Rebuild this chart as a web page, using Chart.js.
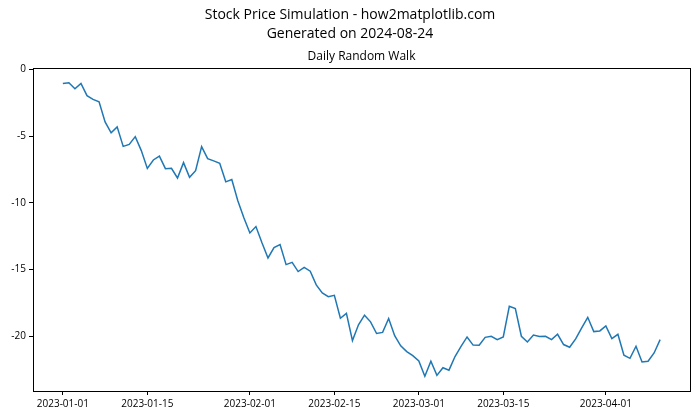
<!DOCTYPE html>
<html>
<head>
<meta charset="utf-8">
<script src="https://cdn.jsdelivr.net/npm/chart.js@4.4.0/dist/chart.umd.min.js"></script>
<style>
  html, body { margin: 0; padding: 0; background: #ffffff; }
  #wrap { width: 700px; height: 420px; }
</style>
</head>
<body>
<div id="wrap"><canvas id="c" width="700" height="420"></canvas></div>
<script>
// ---- data ----
const dayIndex = [];
for (let i = 0; i < 100; i++) dayIndex.push(i); // 2023-01-01 .. 2023-04-10

const prices = [
  -1.07, -1.00, -1.45, -1.05, -1.97, -2.25, -2.44, -3.94, -4.76, -4.31,
  -5.77, -5.62, -5.04, -6.09, -7.42, -6.79, -6.50, -7.44, -7.42, -8.14,
  -6.99, -8.09, -7.59, -5.79, -6.69, -6.86, -7.04, -8.43, -8.25, -9.85,
  -11.12, -12.26, -11.78, -13.00, -14.13, -13.35, -13.13, -14.63, -14.46, -15.15,
  -14.84, -15.12, -16.15, -16.75, -17.03, -16.93, -18.65, -18.28, -20.32, -19.14,
  -18.42, -18.92, -19.79, -19.71, -18.67, -19.96, -20.72, -21.15, -21.45, -21.85,
  -23.00, -21.87, -22.93, -22.36, -22.54, -21.52, -20.75, -20.05, -20.66, -20.67,
  -20.08, -20.00, -20.25, -20.05, -17.75, -17.93, -20.00, -20.43, -19.91, -20.02,
  -20.00, -20.25, -19.85, -20.62, -20.82, -20.20, -19.37, -18.58, -19.65, -19.60,
  -19.22, -20.17, -19.85, -21.42, -21.65, -20.75, -21.92, -21.87, -21.25, -20.25
];

const xTickDays   = [0, 14, 31, 45, 59, 73, 90];
const xTickLabels = ['2023-01-01', '2023-01-15', '2023-02-01', '2023-02-15', '2023-03-01', '2023-03-15', '2023-04-01'];
const yTickValues = [-20, -15, -10, -5, 0];

const titleLines = ['Stock Price Simulation - how2matplotlib.com', 'Generated on 2024-08-24'];
const axesTitle  = 'Daily Random Walk';

const FONT = "'Open Sans', 'Noto Sans', sans-serif";

const points = dayIndex.map((d, i) => ({ x: d, y: prices[i] }));

const frame = {
  id: 'frame',
  afterDraw(chart) {
    const { ctx, chartArea: a } = chart;
    ctx.save();
    ctx.strokeStyle = '#000';
    ctx.lineWidth = 1;
    ctx.strokeRect(Math.round(a.left) + 0.5, Math.round(a.top) + 0.5,
                   Math.round(a.right - a.left), Math.round(a.bottom - a.top));
    ctx.fillStyle = '#000';
    ctx.textAlign = 'center';
    ctx.textBaseline = 'middle';
    ctx.font = '14px ' + FONT;
    ctx.fillText(titleLines[0], 350, 15);
    ctx.fillText(titleLines[1], 350, 34);
    ctx.font = '12px ' + FONT;
    ctx.fillText(axesTitle, (a.left + a.right) / 2, 57);
    ctx.restore();
  }
};

new Chart(document.getElementById('c'), {
  type: 'line',
  data: {
    datasets: [{
      data: points,
      borderColor: '#1f77b4',
      borderWidth: 1.5,
      pointRadius: 0,
      tension: 0,
      fill: false
    }]
  },
  options: {
    responsive: false,
    animation: false,
    devicePixelRatio: 1,
    layout: { padding: { left: 0, right: 10, top: 68, bottom: 0 } },
    plugins: { legend: { display: false }, tooltip: { enabled: false } },
    scales: {
      x: {
        type: 'linear',
        min: -4.95,
        max: 103.95,
        afterBuildTicks(scale) { scale.ticks = xTickDays.map(v => ({ value: v })); },
        afterFit(scale) { scale.height = 29; },
        grid: { drawOnChartArea: false, drawTicks: true, tickLength: 4, color: '#000', tickWidth: 1 },
        border: { display: true, color: '#000', width: 1 },
        ticks: {
          autoSkip: false,
          maxRotation: 0,
          padding: 3,
          color: '#000',
          font: { family: FONT, size: 10 },
          callback(v) { const k = xTickDays.indexOf(v); return k >= 0 ? xTickLabels[k] : ''; }
        }
      },
      y: {
        min: -24.1,
        max: 0.1,
        afterBuildTicks(scale) { scale.ticks = yTickValues.map(v => ({ value: v })); },
        afterFit(scale) { scale.width = 33; },
        grid: { drawOnChartArea: false, drawTicks: true, tickLength: 4, color: '#000', tickWidth: 1 },
        border: { display: true, color: '#000', width: 1 },
        ticks: {
          padding: 3,
          color: '#000',
          font: { family: FONT, size: 10 },
          callback(v) { return String(v); }
        }
      }
    }
  },
  plugins: [frame]
});
</script>
</body>
</html>
